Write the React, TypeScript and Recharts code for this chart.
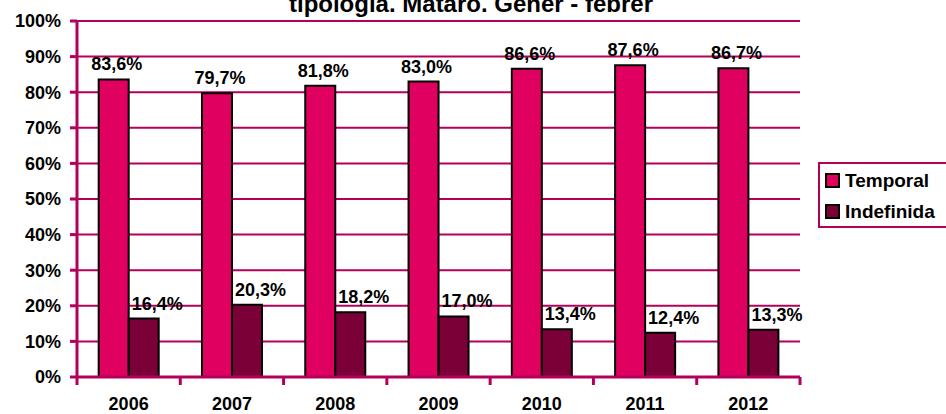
import React from "react";
import { BarChart, Bar, XAxis, YAxis, CartesianGrid, Legend, LabelList } from "recharts";

const years = ["2006", "2007", "2008", "2009", "2010", "2011", "2012"];
const temporal = [83.6, 79.7, 81.8, 83.0, 86.6, 87.6, 86.7];
const indefinida = [16.4, 20.3, 18.2, 17.0, 13.4, 12.4, 13.3];
const seriesNames = ["Temporal", "Indefinida"];
const yTicks = [0, 10, 20, 30, 40, 50, 60, 70, 80, 90, 100];
const title = "tipologia. Mataró. Gener - febrer";

const data = years.map((year, i) => ({
  year,
  Temporal: temporal[i],
  Indefinida: indefinida[i],
}));

const FONT = '"Liberation Sans", Arial, sans-serif';
const AXIS = "#B5005B";
const PINK = "#E0005F";
const WINE = "#7A0037";

const fmt = (v: number) => v.toFixed(1).replace(".", ",") + "%";

const YearTick = (props: any) => {
  const { x, y, payload, index, visibleTicksCount } = props;
  const half = payload.offset ?? 0;
  const axisY = y - 20;
  return (
    <g>
      <line x1={x - half} x2={x - half} y1={axisY} y2={axisY + 8} stroke={AXIS} strokeWidth={3} />
      {index === visibleTicksCount - 1 && (
        <line x1={x + half} x2={x + half} y1={axisY} y2={axisY + 8} stroke={AXIS} strokeWidth={3} />
      )}
      <text x={x} y={y} dy="0.71em" textAnchor="middle" fontFamily={FONT} fontWeight="bold" fontSize={18} fill="#000">
        {payload.value}
      </text>
    </g>
  );
};

const TemporalLabel = (props: any) => {
  const { x, y, width, value } = props;
  return (
    <text x={x + width / 2 + 3} y={y - 9} textAnchor="middle" fontFamily={FONT} fontWeight="bold" fontSize={18} fill="#000">
      {fmt(value)}
    </text>
  );
};

const IndefinidaLabel = (props: any) => {
  const { x, y, value } = props;
  return (
    <text x={x + 3} y={y - 9} textAnchor="start" fontFamily={FONT} fontWeight="bold" fontSize={18} fill="#000">
      {fmt(value)}
    </text>
  );
};

const renderLegend = (props: any) => {
  const items = [...(props.payload || [])].sort(
    (a: any, b: any) => seriesNames.indexOf(a.value) - seriesNames.indexOf(b.value)
  );
  return (
    <div
      style={{
        boxSizing: "border-box",
        width: 130,
        height: 66,
        border: `2px solid ${AXIS}`,
        background: "#fff",
        padding: "1px 0 0 5px",
        fontFamily: FONT,
        fontWeight: "bold",
        fontSize: 19,
        color: "#000",
      }}
    >
      {items.map((entry: any) => (
        <div key={entry.value} style={{ display: "flex", alignItems: "center", height: 31 }}>
          <span
            style={{
              display: "inline-block",
              boxSizing: "border-box",
              width: 15,
              height: 15,
              background: entry.color,
              border: "2px solid #000",
              marginRight: 5,
            }}
          />
          {entry.value}
        </div>
      ))}
    </div>
  );
};

export default function App() {
  return (
    <div style={{ position: "absolute", left: 0, top: 0, width: 946, height: 414, background: "#fff", overflow: "hidden" }}>
      <div
        style={{
          position: "absolute",
          left: 0,
          top: -8,
          width: 942,
          textAlign: "center",
          fontFamily: FONT,
          fontWeight: "bold",
          fontSize: 24,
          lineHeight: "24px",
          whiteSpace: "nowrap",
        }}
      >
        {title}
      </div>
      <BarChart
        width={946}
        height={414}
        data={data}
        margin={{ top: 21, right: 146, bottom: 0, left: 0 }}
        barCategoryGap="21%"
        barGap={0}
      >
        <CartesianGrid vertical={false} stroke={AXIS} strokeWidth={2} />
        <XAxis
          dataKey="year"
          height={37}
          axisLine={{ stroke: AXIS, strokeWidth: 3 }}
          tickLine={false}
          tickSize={8}
          tickMargin={12}
          interval={0}
          tick={<YearTick />}
        />
        <YAxis
          type="number"
          domain={[0, 100]}
          ticks={yTicks}
          interval={0}
          width={77}
          tickFormatter={(v: number) => `${v}%`}
          axisLine={{ stroke: AXIS, strokeWidth: 3 }}
          tickLine={{ stroke: AXIS, strokeWidth: 3 }}
          tickSize={7}
          tickMargin={9}
          tick={{ fill: "#000", fontFamily: FONT, fontWeight: "bold", fontSize: 18 }}
        />
        <Legend
          layout="vertical"
          align="center"
          verticalAlign="middle"
          content={renderLegend}
          wrapperStyle={{ left: 818, top: 162, width: 130, height: 66 }}
        />
        <Bar dataKey="Temporal" fill={PINK} stroke="#000" strokeWidth={2} isAnimationActive={false}>
          <LabelList dataKey="Temporal" content={<TemporalLabel />} />
        </Bar>
        <Bar dataKey="Indefinida" fill={WINE} stroke="#000" strokeWidth={2} isAnimationActive={false}>
          <LabelList dataKey="Indefinida" content={<IndefinidaLabel />} />
        </Bar>
      </BarChart>
    </div>
  );
}
